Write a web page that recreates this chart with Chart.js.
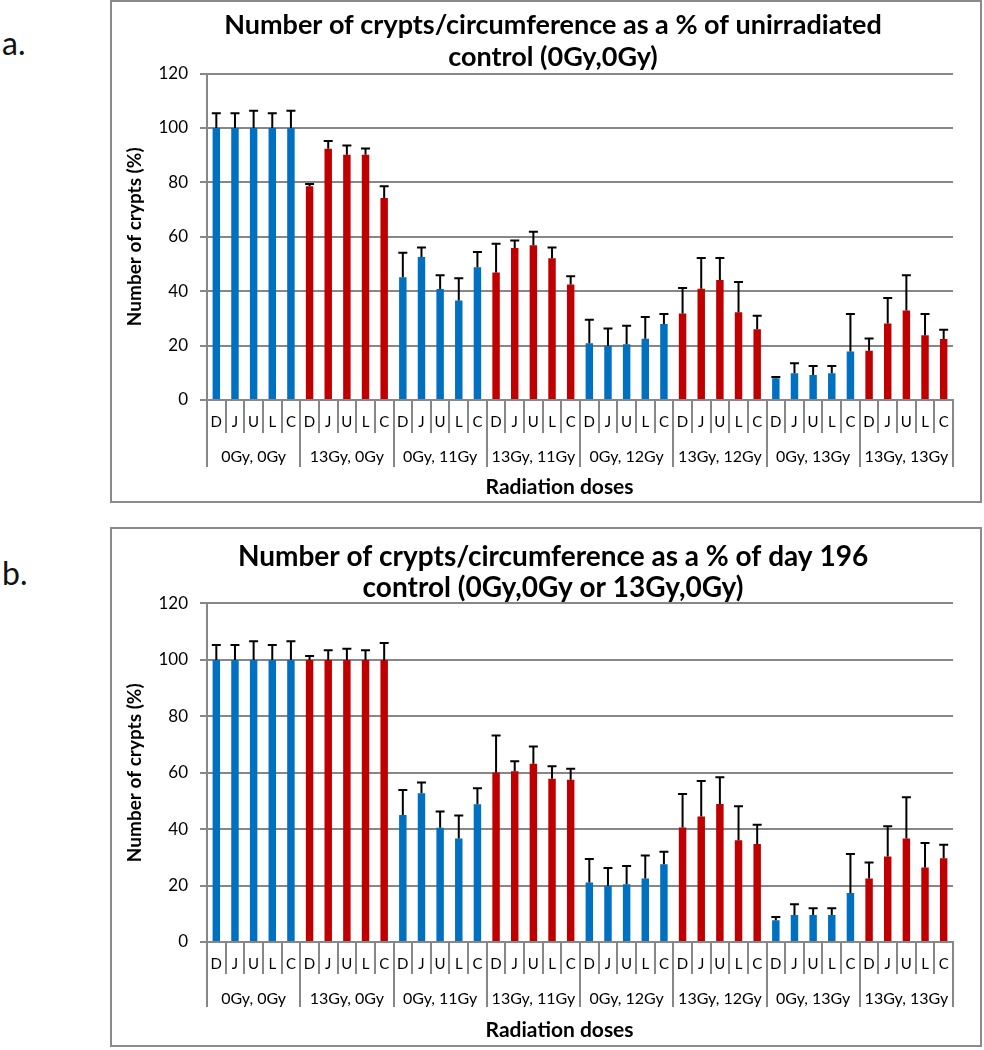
<!DOCTYPE html>
<html>
<head>
<meta charset="utf-8">
<script src="https://cdn.jsdelivr.net/npm/chart.js@4.4.1/dist/chart.umd.min.js"></script>
<style>
  body { margin: 0; background: #fff; width: 984px; height: 1050px; position: relative; overflow: hidden; font-family: Lato, "Open Sans", sans-serif; }
  .panel { position: absolute; left: 110px; width: 872px; border: 2px solid #8a8a8a; box-sizing: border-box; background: #fff; }
  #panelA { top: 0; height: 503px; }
  #panelB { top: 527px; height: 520px; }
  .tag { position: absolute; left: 2px; font-size: 32px; color: #111; }
</style>
</head>
<body>
<div class="tag" style="top:23px">a.</div>
<div class="tag" style="top:553px">b.</div>
<div id="panelA" class="panel"><canvas id="chartA"></canvas></div>
<div id="panelB" class="panel"><canvas id="chartB"></canvas></div>

<script>
const sites = ["D", "J", "U", "L", "C"];
const doseGroups = ["0Gy, 0Gy", "13Gy, 0Gy", "0Gy, 11Gy", "13Gy, 11Gy", "0Gy, 12Gy", "13Gy, 12Gy", "0Gy, 13Gy", "13Gy, 13Gy"];
const siteLabels = doseGroups.flatMap(() => sites);

// a. % of unirradiated control
const cryptsVsUnirradiated = [
  100, 100, 100, 100, 100,
  78.6, 92.4, 90.2, 90.2, 74.3,
  45.1, 52.6, 40.8, 36.6, 48.8,
  46.9, 55.9, 56.9, 52.1, 42.5,
  20.9, 19.9, 20.5, 22.5, 27.9,
  31.8, 40.9, 44.1, 32.3, 26.0,
  8.0, 9.8, 9.2, 9.8, 17.8,
  18.1, 28.1, 32.9, 23.8, 22.4
];
const errorVsUnirradiated = [
  5.4, 5.4, 6.3, 5.4, 6.3,
  0.8, 2.8, 3.4, 2.3, 4.3,
  9.0, 3.5, 5.1, 8.2, 5.6,
  10.5, 2.7, 5.0, 4.0, 3.0,
  8.6, 6.4, 6.8, 8.0, 3.7,
  9.4, 11.3, 8.1, 11.1, 5.0,
  0.5, 3.7, 3.3, 2.7, 13.8,
  4.5, 9.4, 13.0, 7.8, 3.4
];

// b. % of day 196 control
const cryptsVsDay196 = [
  100, 100, 100, 100, 100,
  100, 100, 100, 100, 100,
  45.0, 52.7, 40.5, 36.7, 48.8,
  60.1, 60.5, 63.2, 57.9, 57.5,
  21.1, 19.9, 20.5, 22.5, 27.6,
  40.6, 44.5, 48.9, 36.1, 34.7,
  7.7, 9.6, 9.6, 9.6, 17.4,
  22.5, 30.3, 36.7, 26.4, 29.7
];
const errorVsDay196 = [
  5.3, 5.3, 6.6, 5.3, 6.6,
  1.4, 3.4, 4.0, 3.4, 6.0,
  8.9, 3.8, 5.8, 8.1, 5.7,
  13.1, 3.6, 6.1, 4.4, 3.9,
  8.3, 6.3, 6.4, 8.2, 4.4,
  11.9, 12.6, 9.5, 12.0, 6.9,
  1.2, 3.8, 2.4, 2.4, 13.8,
  5.7, 10.7, 14.6, 8.7, 4.8
];

const yMax = 120;
const yStep = 20;

const BLUE = "#0070c0";
const RED = "#c00000";
const GRID = "#878787";
const FONT = "Lato, 'Open Sans', sans-serif";

const barColors = doseGroups.flatMap((g) => sites.map(() => (g.startsWith("13Gy") ? RED : BLUE)));

// upper error bars, drawn from each bar element through the y scale
const errorBars = {
  id: "errorBars",
  afterDatasetsDraw(chart) {
    const { ctx } = chart;
    const yScale = chart.scales.y;
    chart.data.datasets.forEach((ds, di) => {
      chart.getDatasetMeta(di).data.forEach((bar, i) => {
        const top = yScale.getPixelForValue(ds.data[i] + ds.errorUp[i]);
        ctx.save();
        ctx.strokeStyle = "#000";
        ctx.lineWidth = 2;
        ctx.beginPath();
        ctx.moveTo(bar.x, bar.y);
        ctx.lineTo(bar.x, top);
        ctx.moveTo(bar.x - 4.5, top);
        ctx.lineTo(bar.x + 4.5, top);
        ctx.stroke();
        ctx.restore();
      });
    });
  }
};

function buildChart(canvasId, values, errors, titleLines, dims) {
  return new Chart(document.getElementById(canvasId), {
    type: "bar",
    data: {
      labels: siteLabels,
      datasets: [{
        data: values,
        errorUp: errors,
        backgroundColor: barColors,
        categoryPercentage: 1,
        barPercentage: 0.4
      }]
    },
    options: {
      responsive: true,
      maintainAspectRatio: false,
      animation: false,
      events: [],
      layout: { padding: { left: 41, right: 27, top: 0, bottom: 0 } },
      plugins: {
        legend: { display: false },
        tooltip: { enabled: false },
        title: {
          display: true,
          text: titleLines,
          color: "#000",
          font: { family: FONT, size: dims.titleSize, weight: "bold", lineHeight: dims.titleLine },
          padding: { top: dims.titleTop, bottom: 0 }
        }
      },
      scales: {
        y: {
          min: 0,
          max: yMax,
          ticks: { stepSize: yStep, color: "#000", font: { family: FONT, size: 17 }, padding: 12 },
          grid: { color: GRID, lineWidth: 2, tickLength: 7 },
          border: { color: GRID, width: 2 },
          title: {
            display: true,
            text: "Number of crypts (%)",
            color: "#000",
            font: { family: FONT, size: 19, weight: "bold" },
            padding: { top: -29.5, bottom: 0 }
          },
          afterFit: (s) => { s.width = 54; }
        },
        x: {
          offset: true,
          ticks: { color: "#000", font: { family: FONT, size: 15 }, padding: dims.sitePad, autoSkip: false, maxRotation: 0 },
          grid: { offset: true, drawOnChartArea: false, color: GRID, lineWidth: 2, tickLength: dims.siteTick },
          border: { color: GRID, width: 2 },
          afterFit: (s) => { s.height = dims.siteTick; }
        },
        x2: {
          type: "category",
          position: "bottom",
          labels: doseGroups,
          offset: true,
          ticks: { color: "#000", font: { family: FONT, size: 16 }, padding: dims.groupPad, autoSkip: false, maxRotation: 0 },
          grid: { offset: true, drawOnChartArea: false, color: GRID, lineWidth: 2, tickLength: dims.groupTick },
          border: { display: false },
          title: {
            display: true,
            // trailing spaces nudge the centred title a little left, as in the source figure
            text: "Radiation doses        ",
            color: "#000",
            font: { family: FONT, size: 21, weight: "bold" },
            padding: { top: 0, bottom: dims.doseTitlePad }
          },
          afterFit: (s) => { s.height = dims.groupHeight; }
        }
      }
    },
    plugins: [errorBars]
  });
}

buildChart("chartA", cryptsVsUnirradiated, errorVsUnirradiated,
  ["Number of crypts/circumference as a % of unirradiated", "control (0Gy,0Gy)"],
  { titleSize: 27, titleLine: 1.2, titleTop: 6.8, siteTick: 33, sitePad: -19.4, groupTick: 34, groupPad: -19.6, groupHeight: 68, doseTitlePad: 1.4 });

buildChart("chartB", cryptsVsDay196, errorVsDay196,
  ["Number of crypts/circumference as a % of day 196", "control (0Gy,0Gy or 13Gy,0Gy)"],
  { titleSize: 28, titleLine: 1.107, titleTop: 12.5, siteTick: 32, sitePad: -18.4, groupTick: 33, groupPad: -17.6, groupHeight: 71, doseTitlePad: 2.4 });
</script>
</body>
</html>
